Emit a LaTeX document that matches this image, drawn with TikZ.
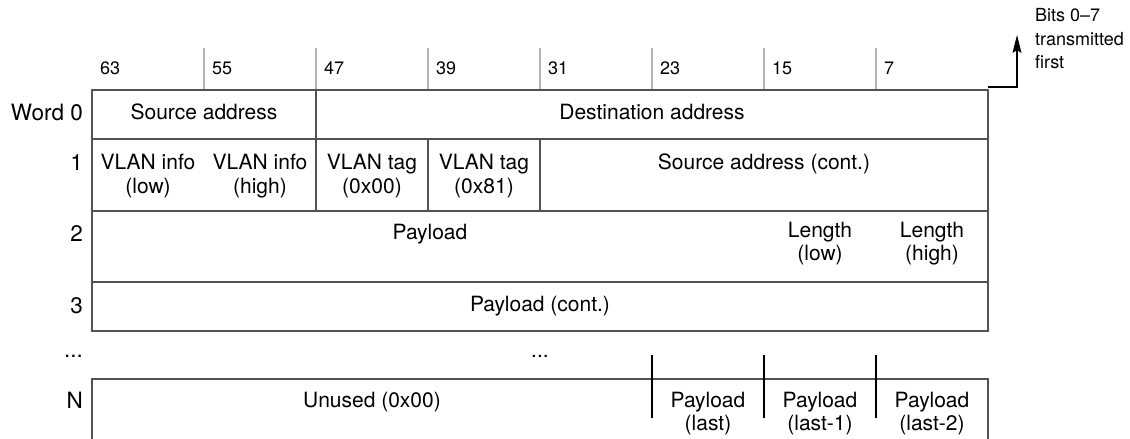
\documentclass[tikz,border=0pt]{standalone}
\usepackage{fontspec}
\setmainfont{TeX Gyre Heros}
\usetikzlibrary{arrows.meta}
\begin{document}
\begin{tikzpicture}[x=1pt,y=-1pt,
  boxline/.style={line width=1.8pt, draw=black!68, line cap=rect},
  tickline/.style={line width=1.3pt, draw=black!30},
  sepline/.style={line width=1.3pt, draw=black},
  cell/.style={inner sep=0pt, font=\fontsize{21}{23.5}\selectfont, align=center, text height=15pt, text depth=0pt},
  celltwo/.style={cell, text height=38.5pt},
  hdr/.style={inner sep=0pt, font=\fontsize{18}{20}\selectfont, anchor=west, text height=13pt, text depth=0pt},
  rowlbl/.style={cell, anchor=east, font=\fontsize{22.5}{24}\selectfont, text height=16pt},
  note/.style={inner sep=0pt, font=\fontsize{18}{23.5}\selectfont, align=left, anchor=north west, text height=60pt, text depth=0pt}]

\useasboundingbox (0,0) rectangle (1130,439);

% header ticks and bit numbers
\foreach \x in {204,316,428,540,652,764,876}
  \draw[tickline] (\x,48) -- (\x,90);
\foreach \x/\n in {92/63,204/55,316/47,428/39,540/31,652/23,764/15,876/7}
  \node[hdr] (h\n) at (\x+8,68) {\n};

% main frame words 0..3
\draw[boxline] (92,90) rectangle (988,331);
\draw[boxline] (92,139) -- (988,139);
\draw[boxline] (92,211) -- (988,211);
\draw[boxline] (92,282) -- (988,282);
\draw[boxline] (316,90) -- (316,211);
\draw[boxline] (428,139) -- (428,211);
\draw[boxline] (540,139) -- (540,211);

% word N frame
\draw[boxline] (92,441) -- (92,379) -- (988,379) -- (988,441);
\foreach \x in {652,764,876}
  \draw[sepline] (\x,355) -- (\x,418);

% row labels
\node[rowlbl] (lw0) at (83,112) {Word 0};
\node[rowlbl] (lw1) at (83,162) {1};
\node[rowlbl] (lw2) at (83,233) {2};
\node[rowlbl] (lw3) at (83,305) {3};
\node[rowlbl] (lwd) at (83,349.5) {...};
\node[rowlbl] (lwn) at (83,400) {N};

% word 0
\node[cell] (srca) at (204,112) {Source address};
\node[cell] (dsta) at (652,112) {Destination address};
% word 1
\node[celltwo] (vil) at (148,174) {VLAN info\\(low)};
\node[celltwo] (vih) at (260,174) {VLAN info\\(high)};
\node[celltwo] (vt0) at (372,174) {VLAN tag\\(0x00)};
\node[celltwo] (vt1) at (484,174) {VLAN tag\\(0x81)};
\node[cell] (srcc) at (764,162) {Source address (cont.)};
% word 2
\node[cell] (pay) at (430,232) {Payload};
\node[celltwo] (lenl) at (820,241.5) {Length\\(low)};
\node[celltwo] (lenh) at (932,241.5) {Length\\(high)};
% word 3
\node[cell] (payc) at (540,304) {Payload (cont.)};
% dots
\node[cell] (dots) at (540,350) {...};
% word N
\node[cell] (unused) at (372,400) {Unused (0x00)};
\node[celltwo] (pl0) at (708,411.5) {Payload\\(last)};
\node[celltwo] (pl1) at (820,411.5) {Payload\\(last-1)};
\node[celltwo] (pl2) at (932,411.5) {Payload\\(last-2)};

% transmission arrow
\coordinate (a0) at (988,87);
\coordinate (a1) at (1017,87);
\coordinate (a2) at (1017,35);
\draw[sepline, -{Stealth[length=18pt,width=9pt,inset=3pt]}] (a0) -- (a1) -- (a2);
\node[note] (bits) at (1035,8.5) {Bits 0--7\\transmitted\\first};
\end{tikzpicture}
\end{document}
